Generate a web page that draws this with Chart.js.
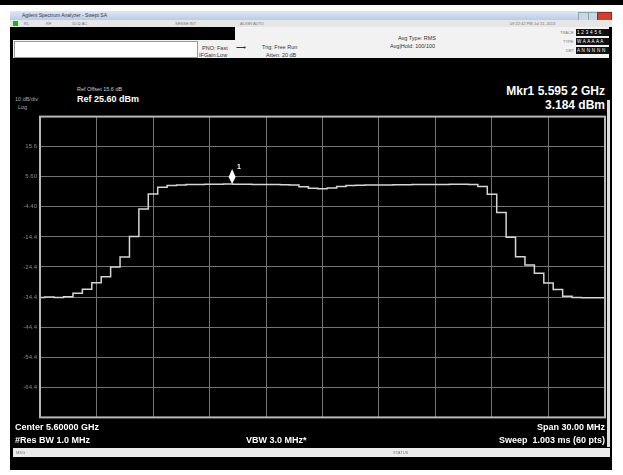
<!DOCTYPE html>
<html>
<head>
<meta charset="utf-8">
<script src="https://cdn.jsdelivr.net/npm/chart.js@4.4.1/dist/chart.umd.min.js"></script>
<style>
  body { margin: 0; background: #fff; width: 623px; height: 475px; position: relative; overflow: hidden;
         font-family: "Liberation Sans", Arial, sans-serif; }
  .abs { position: absolute; }
  .topbar { left: 0; top: 0; width: 623px; height: 5px; background: #000; }
  .win { left: 10px; top: 11px; width: 602px; height: 459px; background: #000; }
  .title { left: 10px; top: 11px; width: 602px; height: 9px; background: linear-gradient(#dfe8f4, #b9cbe2);
           font-size: 5px; line-height: 9px; color: #334; text-indent: 12px; }
  .tool { left: 10px; top: 20px; width: 602px; height: 7px; background: #e6e6e6; font-size: 4px; line-height: 7px; color: #777; }
  .info { left: 13px; top: 27px; width: 596px; height: 31px; background: #f2f2f2; }
  .blk { left: 13px; top: 27px; width: 222px; height: 13px; background: #000; }
  .wbox { left: 14px; top: 41px; width: 182px; height: 15px; background: #fff; border: 1px solid #999; }
  .sm { font-size: 5.5px; color: #333; white-space: nowrap; }
  .trc { background: #111; color: #fff; font-size: 4.5px; line-height: 7px; width: 33px; white-space: nowrap;
         overflow: hidden; letter-spacing: 0.3px; text-indent: 1px; }
  .w { color: #fff; font-weight: bold; white-space: nowrap; }
  .g { color: #aaa; white-space: nowrap; }
  .status { left: 13px; top: 448px; width: 597px; height: 9px; background: #ececec; font-size: 4px; line-height: 9px; color: #777; }
  #chart { position: absolute; left: 12px; top: 110px; }
</style>
</head>
<body>
<div class="abs topbar"></div>
<div class="abs win"></div>
<div class="abs title">Agilent Spectrum Analyzer - Swept SA</div>
<div class="abs" style="left:578px;top:12px;width:9px;height:7px;background:#c9d6e6;border:1px solid #8aa"></div>
<div class="abs" style="left:588px;top:12px;width:8px;height:7px;background:#c9d6e6;border:1px solid #8aa"></div>
<div class="abs" style="left:597px;top:12px;width:13px;height:7px;background:#d04030;border:1px solid #922"></div>
<div class="abs tool">
  <span style="position:absolute;left:3px;top:1px;width:5px;height:5px;background:#2a2"></span>
  <span style="position:absolute;left:14px">RL</span>
  <span style="position:absolute;left:36px">RF</span>
  <span style="position:absolute;left:62px">50 Ω  AC</span>
  <span style="position:absolute;left:165px">SENSE:INT</span>
  <span style="position:absolute;left:230px">ALIGN AUTO</span>
  <span style="position:absolute;left:500px">09:22:42 PM Jul 11, 2013</span>
</div>
<div class="abs info"></div>
<div class="abs blk"></div>
<div class="abs wbox"></div>
<div class="abs sm" style="left:202px;top:45px">PNO: Fast</div>
<div class="abs sm" style="left:199px;top:52px">IFGain:Low</div>
<div class="abs sm" style="left:236px;top:44px;font-size:7px">⟶</div>
<div class="abs sm" style="left:262px;top:44px">Trig: Free Run</div>
<div class="abs sm" style="left:266px;top:52px">Atten: 20 dB</div>
<div class="abs sm" style="left:398px;top:35px">Avg Type: RMS</div>
<div class="abs sm" style="left:390px;top:43px">Avg|Hold: 100/100</div>
<div class="abs sm" style="left:560px;top:30px;font-size:4px;color:#777">TRACE</div>
<div class="abs sm" style="left:563px;top:39px;font-size:4px;color:#777">TYPE</div>
<div class="abs sm" style="left:566px;top:48px;font-size:4px;color:#777">DET</div>
<div class="abs trc" style="left:576px;top:29px">1 2 3 4 5 6</div>
<div class="abs trc" style="left:576px;top:38px">W A A A A A</div>
<div class="abs trc" style="left:576px;top:47px">A N N N N N</div>

<div class="abs g" style="left:15px;top:96px;font-size:5.5px">10 dB/div</div>
<div class="abs g" style="left:18px;top:104px;font-size:5.5px">Log</div>
<div class="abs g" style="left:77px;top:86px;font-size:5.5px;color:#ccc">Ref Offset 15.6 dB</div>
<div class="abs w" style="left:77px;top:94px;font-size:9px">Ref 25.60 dBm</div>
<div class="abs w" style="right:18px;top:84px;font-size:12px">Mkr1 5.595 2 GHz</div>
<div class="abs w" style="right:18px;top:98px;font-size:12px">3.184 dBm</div>

<canvas id="chart" width="596" height="314"></canvas>
<div class="abs" style="left:607px;top:100px;width:3px;height:347px;background:#ddd"></div>

<div class="abs w" style="left:15px;top:422px;font-size:9px">Center 5.60000 GHz</div>
<div class="abs w" style="left:15px;top:435px;font-size:9px">#Res BW 1.0 MHz</div>
<div class="abs w" style="left:246px;top:435px;font-size:9px">VBW 3.0 MHz*</div>
<div class="abs w" style="right:18px;top:422px;font-size:9px">Span 30.00 MHz</div>
<div class="abs w" style="right:18px;top:435px;font-size:9px">Sweep&nbsp; 1.003 ms (60 pts)</div>
<div class="abs status"><span style="position:absolute;left:3px">MSG</span><span style="position:absolute;left:380px">STATUS</span></div>

<script>
// Eixo de frequência (GHz) - pontos da varredura
const freqGHz = [
  5.5850, 5.5855, 5.5860, 5.5865, 5.5870, 5.5875, 5.5880, 5.5885, 5.5890, 5.5895,
  5.5900, 5.5905, 5.5910, 5.5915, 5.5920, 5.5925, 5.5930, 5.5935, 5.5940, 5.5945,
  5.5950, 5.5955, 5.5960, 5.5965, 5.5970, 5.5975, 5.5980, 5.5985, 5.5990, 5.5995,
  5.6000, 5.6005, 5.6010, 5.6015, 5.6020, 5.6025, 5.6030, 5.6035, 5.6040, 5.6045,
  5.6050, 5.6055, 5.6060, 5.6065, 5.6070, 5.6075, 5.6080, 5.6085, 5.6090, 5.6095,
  5.6100, 5.6105, 5.6110, 5.6115, 5.6120, 5.6125, 5.6130, 5.6135, 5.6140, 5.6145,
  5.6150
];

// Nível do traço (dBm)
const levelDbm = [
  -34.5, -34.4, -34.5, -34.3, -33.1, -31.8, -29.6, -27.6, -24.4, -21.1,
  -14.3, -5.1, -0.1, 2.1, 2.7, 2.9, 3.0, 3.0, 3.1, 3.1,
  3.18, 3.1, 3.1, 3.05, 3.0, 3.0, 2.95, 2.9, 2.3, 1.8,
  1.6, 1.9, 2.4, 2.7, 2.8, 2.85, 2.9, 2.9, 2.95, 2.95,
  3.0, 3.0, 3.0, 3.05, 3.1, 3.1, 3.0, 2.4, -0.2, -6.3,
  -14.5, -21.0, -23.7, -26.5, -29.7, -31.9, -34.1, -34.5, -34.6, -34.6,
  -34.6
];

// Grade: linhas verticais e horizontais
const xGridGHz = [5.585, 5.588, 5.591, 5.594, 5.597, 5.600, 5.603, 5.606, 5.609, 5.612, 5.615];
const yGridDbm = [25.6, 15.6, 5.6, -4.4, -14.4, -24.4, -34.4, -44.4, -54.4, -64.4, -74.4];

// Marcador 1
const markerFreqGHz = 5.5952;
const markerDbm = 3.184;

const gridColor = '#747474';

// Desenha moldura e marcador
const markerPlugin = {
  id: 'marker',
  afterDatasetsDraw(chart) {
    const ctx = chart.ctx;
    const a = chart.chartArea;
    ctx.save();
    ctx.strokeStyle = '#b8b8b8';
    ctx.lineWidth = 2;
    ctx.strokeRect(a.left, a.top, a.right - a.left, a.bottom - a.top);

    const x = chart.scales.x.getPixelForValue(markerFreqGHz);
    const y = chart.scales.y.getPixelForValue(markerDbm);
    ctx.fillStyle = '#fff';
    ctx.beginPath();
    ctx.moveTo(x, y);
    ctx.lineTo(x + 3.5, y - 7);
    ctx.lineTo(x, y - 15);
    ctx.lineTo(x - 3.5, y - 7);
    ctx.closePath();
    ctx.fill();
    ctx.font = 'bold 7px "Liberation Sans", Arial';
    ctx.fillText('1', x + 5, y - 15);
    ctx.restore();
  }
};

new Chart(document.getElementById('chart'), {
  type: 'line',
  data: {
    datasets: [{
      data: freqGHz.map((f, i) => ({ x: f, y: levelDbm[i] })),
      borderColor: '#d6d6d6',
      borderWidth: 1.5,
      pointRadius: 0,
      stepped: 'middle',
      fill: false
    }]
  },
  options: {
    responsive: false,
    animation: false,
    layout: { padding: { top: 4, right: 3, bottom: 4, left: 0 } },
    plugins: { legend: { display: false }, tooltip: { enabled: false } },
    scales: {
      x: {
        type: 'linear',
        min: 5.585,
        max: 5.615,
        afterBuildTicks: s => { s.ticks = xGridGHz.map(v => ({ value: v })); },
        afterFit: s => { s.height = 0; },
        ticks: { display: false },
        grid: { color: gridColor, drawTicks: false },
        border: { display: false }
      },
      y: {
        min: -74.4,
        max: 25.6,
        afterBuildTicks: s => { s.ticks = yGridDbm.map(v => ({ value: v })); },
        afterFit: s => { s.width = 28; },
        ticks: {
          color: '#8a8a8a',
          font: { size: 6, family: '"Liberation Sans", Arial' },
          padding: 3,
          callback: v => (v === 25.6 || v === -74.4) ? '' : Number(v).toPrecision(3)
        },
        grid: { color: gridColor, drawTicks: false },
        border: { display: false }
      }
    }
  },
  plugins: [markerPlugin]
});
</script>
</body>
</html>
